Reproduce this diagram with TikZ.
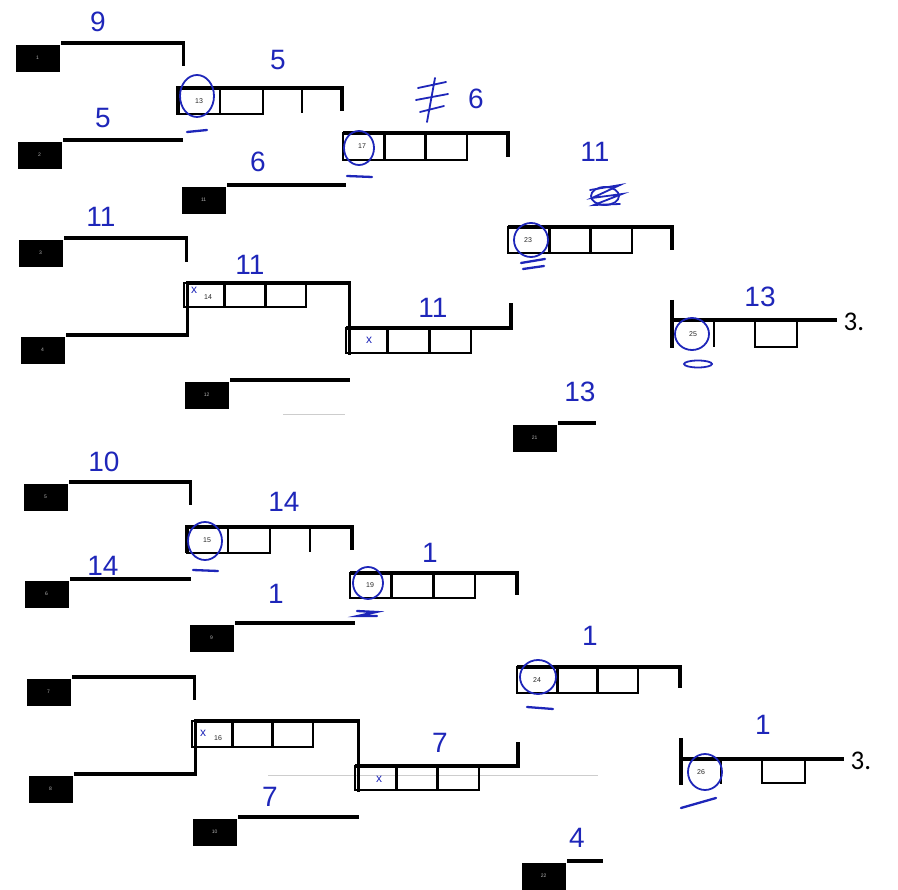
\documentclass[tikz,border=0pt]{standalone}
\usepackage{fontspec}
\setmainfont{Liberation Sans}
\newfontfamily\printfont{Carlito}
\usetikzlibrary{positioning}
\definecolor{pen}{RGB}{30,38,185}
\definecolor{scanline}{RGB}{205,205,205}

\begin{document}
\begin{tikzpicture}[x=1pt,y=-1pt,line width=3.2pt,
  tag/.style={fill=black,minimum width=44pt,minimum height=27pt,inner sep=0pt,anchor=north west,text=white!70!black,font=\fontsize{5}{5}\selectfont},
  cell/.style={line width=2.6pt},
  seed/.style={font=\fontsize{7}{7}\selectfont,text=black!85,inner sep=0pt},
  score/.style={text=pen,inner sep=0pt,font=\fontsize{28}{28}\selectfont},
  place/.style={inner sep=0pt,anchor=west,font=\printfont\fontsize{27}{27}\selectfont},
  ring/.style={draw=pen,line width=1.8pt},
  stroke/.style={draw=pen,line width=2.3pt,line cap=round},
  penx/.style={text=pen,inner sep=0pt,font=\fontsize{12}{12}\selectfont}]
\useasboundingbox (0,0) rectangle (898,890);
\draw[scanline,line width=0.8pt] (268,775) -- (598,775);
\draw[scanline,line width=0.8pt] (283,414) -- (345,414);

% upper half
\node[tag] (t1) at (14,43) {1};
\node[tag] (t2) at (16,140) {2};
\node[tag] (t11) at (180,185) {11};
\node[tag] (t3) at (17,238) {3};
\node[tag] (t4) at (19,335) {4};
\node[tag] (t12) at (183,380) {12};
\node[tag] (t21) at (511,423) {21};
\draw (t1.north east) -- ++(122,0) -- ++(0,23);
\draw (t2.north east) -- ++(120,0);
\draw (t11.north east) -- ++(119,0);
\draw (t3.north east) -- ++(122,0) -- ++(0,24);
\draw (t4.north east) -- ++(121,0) -- ++(0,-52) -- ++(162,0) -- ++(0,72);
\draw (t12.north east) -- ++(120,0);
\draw (t21.north east) -- ++(38,0);

\draw (178,115) -- (178,88) -- (342,88) -- (342,111);
\draw[cell] (178,88) rectangle (220,114) (220,88) rectangle (263,114) (302,88) -- (302,113);
\draw (343,133) -- (508,133) -- (508,157);
\foreach \i in {0,1,2} \draw[cell] (343+41.3*\i,133) rectangle ++(41.3,27);
\foreach \i in {0,1,2} \draw[cell] (184+40.7*\i,283) rectangle ++(40.7,24);
\draw (346,328) -- (511,328) -- (511,303);
\foreach \i in {0,1,2} \draw[cell] (346+41.7*\i,328) rectangle ++(41.7,25);
\draw (508,227) -- (672,227) -- (672,250);
\foreach \i in {0,1,2} \draw[cell] (508+41.3*\i,227) rectangle ++(41.3,26);
\draw (672,300) -- (672,348) (672,320) -- (837,320);
\draw[cell] (714,320) -- (714,347) (755,320) rectangle (797,347);
\node[place] (p1) at (842,322) {3.};

\node[seed] (s13) at (199,101) {13};
\node[seed] (s17) at (362,146) {17};
\node[seed] (s23) at (528,240) {23};
\node[seed] (s14) at (208,297) {14};
\node[seed] (s25) at (693,334) {25};

% lower half
\node[tag] (t5) at (22,482) {5};
\node[tag] (t6) at (23,579) {6};
\node[tag] (t9) at (188,623) {9};
\node[tag] (t7) at (25,677) {7};
\node[tag] (t8) at (27,774) {8};
\node[tag] (t10) at (191,817) {10};
\node[tag] (t22) at (520,861) {22};
\draw (t5.north east) -- ++(121,0) -- ++(0,23);
\draw (t6.north east) -- ++(121,0);
\draw (t9.north east) -- ++(120,0);
\draw (t7.north east) -- ++(122,0) -- ++(0,23);
\draw (t8.north east) -- ++(121,0) -- ++(0,-53) -- ++(163,0) -- ++(0,71);
\draw (t10.north east) -- ++(121,0);
\draw (t22.north east) -- ++(36,0);

\draw (187,553) -- (187,527) -- (352,527) -- (352,550);
\draw[cell] (187,527) rectangle (228,553) (228,527) rectangle (270,553) (310,527) -- (310,552);
\draw (350,573) -- (517,573) -- (517,595);
\foreach \i in {0,1,2} \draw[cell] (350+41.7*\i,573) rectangle ++(41.7,25);
\foreach \i in {0,1,2} \draw[cell] (192+40.3*\i,721) rectangle ++(40.3,26);
\draw (355,766) -- (518,766) -- (518,742);
\foreach \i in {0,1,2} \draw[cell] (355+41.3*\i,766) rectangle ++(41.3,24);
\draw (517,667) -- (680,667) -- (680,688);
\foreach \i in {0,1,2} \draw[cell] (517+40.3*\i,667) rectangle ++(40.3,26);
\draw (681,738) -- (681,785) (681,759) -- (844,759);
\draw[cell] (721,759) -- (721,784) (762,759) rectangle (805,783);
\node[place] (p2) at (849,761) {3.};

\node[seed] (s15) at (207,540) {15};
\node[seed] (s19) at (370,585) {19};
\node[seed] (s24) at (537,680) {24};
\node[seed] (s16) at (218,738) {16};
\node[seed] (s26) at (701,772) {26};

% pen marks
\node[score] (h1) at (98,22) {9};
\node[score] (h2) at (103,118) {5};
\node[score] (h3) at (278,60) {5};
\node[score] (h4) at (258,162) {6};
\node[score] (h5) at (476,99) {6};
\node[score] (h6) at (101,217) {11};
\node[score] (h7) at (250,265) {11};
\node[score] (h8) at (433,308) {11};
\node[score] (h9) at (595,152) {11};
\node[score] (h10) at (760,297) {13};
\node[score] (h11) at (580,392) {13};
\node[score] (h12) at (104,462) {10};
\node[score] (h13) at (284,502) {14};
\node[score] (h14) at (103,566) {14};
\node[score] (h15) at (276,594) {1};
\node[score] (h16) at (430,553) {1};
\node[score] (h17) at (590,636) {1};
\node[score] (h18) at (763,725) {1};
\node[score] (h19) at (440,743) {7};
\node[score] (h20) at (270,797) {7};
\node[score] (h21) at (577,838) {4};

\draw[stroke,line width=1.8pt] (418,88) -- (446,82) (416,100) -- (448,94) (420,112) -- (444,106) (435,78) -- (427,122);
\draw[stroke,line width=1.8pt] (590,190) -- (620,185) -- (592,198) -- (622,194) -- (594,205) -- (620,204);
\draw[ring] (605,196) ellipse (14 and 9);

\draw[ring] (197,96) ellipse (17 and 21);
\draw[ring] (359,148) ellipse (15 and 17);
\draw[ring] (531,240) ellipse (17 and 17);
\draw[ring] (692,334) ellipse (17 and 16);
\draw[ring] (205,541) ellipse (17 and 19);
\draw[ring] (368,583) ellipse (15 and 16);
\draw[ring] (538,677) ellipse (18 and 17);
\draw[ring] (705,772) ellipse (17 and 18);
\draw[stroke] (187,132) -- (207,130);
\draw[stroke] (347,176) -- (372,177);
\draw[stroke] (521,263) -- (545,259) (523,269) -- (544,266);
\draw[ring] (698,364) ellipse (14 and 3.5);
\draw[stroke] (193,570) -- (218,571);
\draw[stroke] (357,611) -- (376,612) -- (358,616) -- (377,616);
\draw[stroke] (527,707) -- (553,709);
\draw[stroke] (681,808) -- (716,798);

\node[penx] (x14) at (194,290) {x};
\node[penx] (x18) at (369,340) {x};
\node[penx] (x16) at (203,733) {x};
\node[penx] (x20) at (379,779) {x};
\end{tikzpicture}
\end{document}
